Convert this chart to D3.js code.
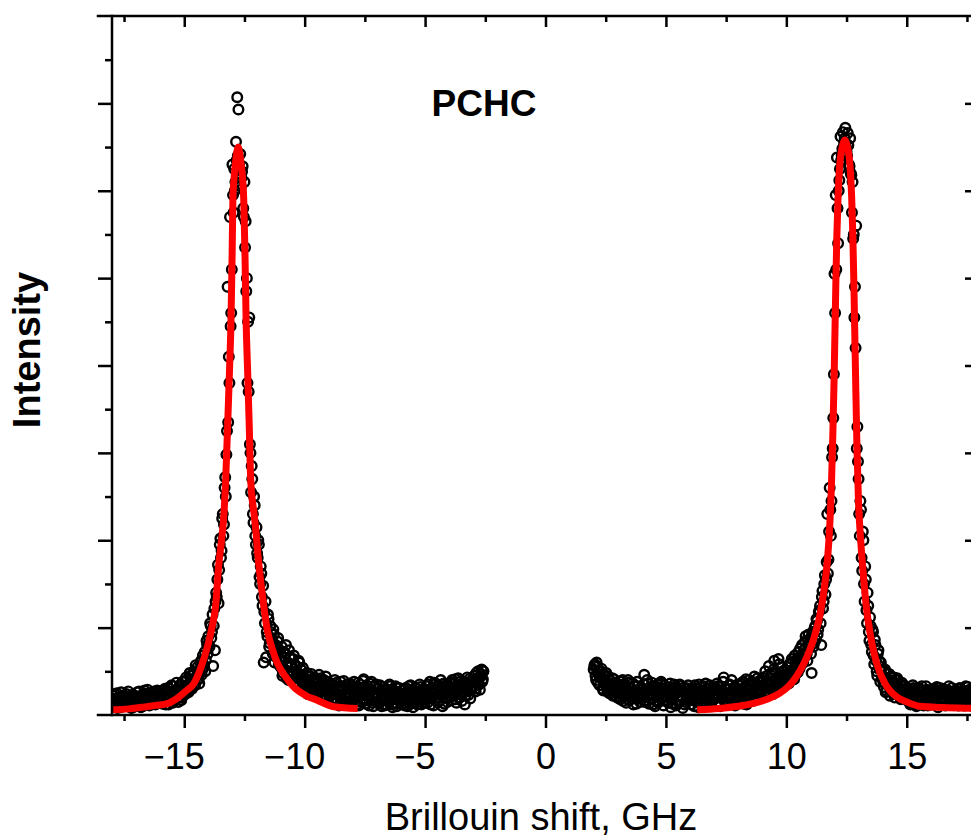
<!DOCTYPE html>
<html>
<head>
<meta charset="utf-8">
<script src="https://cdn.jsdelivr.net/npm/d3@7"></script>
<style>
  body { margin: 0; background: #ffffff; }
  text { font-family: "Liberation Sans", Arial, sans-serif; fill: #000; }
</style>
</head>
<body>
<div id="chart"></div>
<script>
//Measured Spectrum: Two Interleaved Scans on an Even Channel Grid (GHz)
let channelStep = 0.05;
let leftStartA = -18, leftStartB = -17.975;
let rightStartA = 2, rightStartB = 2.025;

//Anti-Stokes Side, Scan A (from -18 GHz)
let leftScanA = [
  0.14, 0.22, 0.10, 0.18, 0.25, 0.12, 0.16, 0.09, 0.21, 0.15, 0.19, 0.11, 0.24, 0.17, 0.13, 0.20, 0.08, 0.18, 0.23, 0.14,
  0.16, 0.26, 0.12, 0.20, 0.09, 0.22, 0.17, 0.28, 0.13, 0.19, 0.24, 0.11, 0.18, 0.21, 0.15, 0.27, 0.12, 0.23, 0.17, 0.20,
  0.18, 0.25, 0.13, 0.22, 0.30, 0.16, 0.21, 0.12, 0.27, 0.19, 0.24, 0.33, 0.17, 0.23, 0.29, 0.15, 0.26, 0.35, 0.20, 0.28,
  0.32, 0.24, 0.40, 0.29, 0.36, 0.45, 0.31, 0.38, 0.50, 0.34, 0.44, 0.55, 0.41, 0.48, 0.62, 0.52, 0.58, 0.72, 0.63, 0.80,
  0.90, 0.78, 1.02, 0.95, 0.56, 1.22, 1.30, 1.35, 1.72, 1.66, 2.02, 1.88, 2.30, 2.18, 2.72, 2.98, 4.90, 4.10, 5.70, 4.60,
  6.30, 5.75, 6.00, 6.56, 7.07, 6.93, 6.20, 6.05, 6.22, 5.80, 6.10, 5.65, 5.00, 4.50, 4.55, 3.00, 2.85, 2.30, 2.50, 2.05,
  2.15, 1.80, 1.95, 1.50, 1.62, 1.25, 0.60, 1.05, 0.66, 0.90, 1.10, 0.82, 0.95, 0.85, 0.98, 0.60, 0.80, 0.72, 0.88, 0.64,
  0.55, 0.78, 0.48, 0.66, 0.70, 0.42, 0.60, 0.74, 0.45, 0.58, 0.50, 0.68, 0.38, 0.55, 0.47, 0.62, 0.35, 0.52, 0.44, 0.40,
  0.42, 0.30, 0.48, 0.36, 0.27, 0.44, 0.33, 0.39, 0.25, 0.41, 0.31, 0.37, 0.46, 0.28, 0.35, 0.22, 0.40, 0.32, 0.26, 0.38,
  0.30, 0.22, 0.36, 0.18, 0.28, 0.40, 0.25, 0.14, 0.33, 0.21, 0.38, 0.27, 0.16, 0.31, 0.24, 0.35, 0.19, 0.29, 0.12, 0.34,
  0.26, 0.38, 0.15, 0.31, 0.22, 0.11, 0.35, 0.27, 0.19, 0.41, 0.24, 0.13, 0.30, 0.20, 0.36, 0.17, 0.28, 0.10, 0.33, 0.23,
  0.21, 0.30, 0.14, 0.26, 0.10, 0.32, 0.19, 0.24, 0.12, 0.29, 0.17, 0.33, 0.22, 0.09, 0.27, 0.18, 0.31, 0.13, 0.25, 0.20,
  0.16, 0.28, 0.22, 0.11, 0.31, 0.19, 0.25, 0.13, 0.34, 0.21, 0.09, 0.27, 0.18, 0.30, 0.15, 0.24, 0.32, 0.12, 0.26, 0.20,
  0.23, 0.33, 0.14, 0.27, 0.38, 0.19, 0.30, 0.11, 0.25, 0.36, 0.21, 0.29, 0.16, 0.40, 0.24, 0.32, 0.13, 0.28, 0.35, 0.20,
  0.26, 0.37, 0.17, 0.31, 0.22, 0.41, 0.14, 0.29, 0.35, 0.20, 0.39, 0.25, 0.33, 0.12, 0.30, 0.43, 0.23, 0.36, 0.28, 0.40,
  0.32, 0.45, 0.27, 0.38, 0.50, 0.35, 0.44, 0.52, 0.41
];

//Anti-Stokes Side, Scan B (from -17.975 GHz)
let leftScanB = [
  0.19, 0.11, 0.24, 0.15, 0.08, 0.20, 0.13, 0.26, 0.17, 0.10, 0.22, 0.14, 0.18, 0.27, 0.12, 0.16, 0.23, 0.09, 0.21, 0.17,
  0.13, 0.21, 0.27, 0.15, 0.19, 0.10, 0.25, 0.14, 0.22, 0.29, 0.16, 0.20, 0.12, 0.26, 0.18, 0.23, 0.14, 0.28, 0.19, 0.24,
  0.22, 0.15, 0.28, 0.19, 0.12, 0.26, 0.31, 0.18, 0.24, 0.34, 0.14, 0.27, 0.21, 0.37, 0.19, 0.32, 0.25, 0.17, 0.38, 0.23,
  0.28, 0.43, 0.33, 0.26, 0.48, 0.39, 0.30, 0.46, 0.35, 0.57, 0.40, 0.49, 0.36, 0.60, 0.46, 0.68, 0.55, 0.50, 0.85, 0.70,
  0.80, 1.05, 0.88, 1.15, 1.02, 0.74, 1.40, 1.55, 1.28, 1.95, 1.80, 2.25, 2.05, 2.60, 2.50, 3.25, 3.35, 3.80, 4.45, 5.10,
  5.95, 6.25, 6.10, 6.35, 6.40, 6.30, 6.42, 6.15, 6.28, 5.70, 5.35, 4.85, 3.80, 3.70, 3.10, 2.55, 2.70, 2.20, 2.40, 1.95,
  1.85, 2.00, 1.58, 1.70, 1.35, 1.48, 1.18, 1.30, 0.95, 1.15, 0.78, 1.02, 0.88, 0.70, 0.92, 0.76, 0.66, 0.84, 0.58, 0.74,
  0.62, 0.45, 0.72, 0.52, 0.80, 0.58, 0.40, 0.66, 0.55, 0.48, 0.64, 0.42, 0.57, 0.50, 0.36, 0.60, 0.46, 0.39, 0.54, 0.33,
  0.35, 0.45, 0.24, 0.40, 0.32, 0.47, 0.29, 0.36, 0.43, 0.21, 0.38, 0.27, 0.34, 0.42, 0.23, 0.37, 0.30, 0.44, 0.20, 0.33,
  0.24, 0.35, 0.15, 0.31, 0.26, 0.19, 0.37, 0.29, 0.11, 0.27, 0.33, 0.18, 0.39, 0.23, 0.13, 0.30, 0.25, 0.36, 0.17, 0.28,
  0.32, 0.18, 0.29, 0.12, 0.37, 0.24, 0.15, 0.31, 0.39, 0.16, 0.27, 0.34, 0.21, 0.11, 0.29, 0.38, 0.14, 0.25, 0.19, 0.35,
  0.25, 0.13, 0.34, 0.18, 0.28, 0.22, 0.11, 0.30, 0.20, 0.15, 0.35, 0.24, 0.12, 0.29, 0.19, 0.33, 0.10, 0.23, 0.31, 0.16,
  0.24, 0.13, 0.30, 0.19, 0.25, 0.10, 0.33, 0.17, 0.22, 0.28, 0.14, 0.31, 0.23, 0.12, 0.27, 0.35, 0.18, 0.21, 0.29, 0.14,
  0.18, 0.28, 0.35, 0.21, 0.12, 0.31, 0.25, 0.37, 0.17, 0.29, 0.14, 0.34, 0.23, 0.27, 0.10, 0.36, 0.20, 0.30, 0.15, 0.26,
  0.33, 0.21, 0.40, 0.25, 0.36, 0.18, 0.31, 0.42, 0.24, 0.34, 0.16, 0.30, 0.38, 0.22, 0.35, 0.27, 0.41, 0.19, 0.33, 0.37,
  0.40, 0.30, 0.48, 0.36, 0.42, 0.29, 0.47, 0.38, 0.50
];

//Stokes Side, Scan A (from 2 GHz)
let rightScanA = [
  0.52, 0.58, 0.40, 0.55, 0.47, 0.34, 0.50, 0.42, 0.28, 0.46, 0.38, 0.31, 0.44, 0.25, 0.39, 0.33, 0.22, 0.41, 0.29, 0.36,
  0.27, 0.35, 0.18, 0.30, 0.40, 0.22, 0.33, 0.14, 0.28, 0.37, 0.20, 0.31, 0.24, 0.12, 0.34, 0.26, 0.38, 0.19, 0.29, 0.23,
  0.31, 0.21, 0.46, 0.17, 0.28, 0.36, 0.13, 0.25, 0.33, 0.19, 0.30, 0.10, 0.27, 0.35, 0.16, 0.24, 0.38, 0.20, 0.11, 0.29,
  0.22, 0.32, 0.14, 0.26, 0.09, 0.30, 0.19, 0.35, 0.24, 0.12, 0.28, 0.17, 0.33, 0.21, 0.08, 0.27, 0.15, 0.31, 0.23, 0.18,
  0.25, 0.12, 0.30, 0.20, 0.34, 0.16, 0.27, 0.09, 0.23, 0.32, 0.14, 0.28, 0.19, 0.36, 0.11, 0.26, 0.21, 0.31, 0.15, 0.24,
  0.18, 0.29, 0.13, 0.33, 0.22, 0.10, 0.27, 0.20, 0.43, 0.16, 0.30, 0.24, 0.12, 0.35, 0.19, 0.28, 0.14, 0.32, 0.23, 0.26,
  0.21, 0.34, 0.15, 0.29, 0.38, 0.18, 0.26, 0.12, 0.31, 0.40, 0.22, 0.33, 0.16, 0.28, 0.36, 0.19, 0.42, 0.25, 0.30, 0.37,
  0.28, 0.40, 0.22, 0.35, 0.45, 0.26, 0.38, 0.31, 0.48, 0.24, 0.62, 0.36, 0.43, 0.29, 0.58, 0.41, 0.33, 0.50, 0.38, 0.46,
  0.42, 0.55, 0.36, 0.49, 0.60, 0.44, 0.52, 0.68, 0.47, 0.58, 0.72, 0.53, 0.66, 0.80, 0.60, 0.75, 0.90, 0.70, 0.85, 0.78,
  0.88, 0.48, 0.95, 0.82, 1.02, 1.10, 0.92, 1.18, 1.25, 0.80, 1.42, 1.30, 1.60, 1.55, 2.30, 1.78, 2.60, 2.05, 2.95, 3.40,
  5.05, 5.95, 6.38, 5.40, 6.12, 6.62, 6.40, 6.67, 6.55, 6.72, 6.45, 6.66, 6.30, 6.60, 6.18, 6.10, 5.50, 4.90, 5.60, 3.30,
  2.70, 2.05, 2.35, 1.65, 2.00, 1.30, 1.55, 1.05, 1.25, 0.85, 1.02, 0.72, 0.95, 0.58, 0.80, 0.50, 0.70, 0.62, 0.38, 0.55,
  0.45, 0.32, 0.52, 0.28, 0.40, 0.36, 0.22, 0.44, 0.30, 0.38, 0.20, 0.34, 0.42, 0.26, 0.31, 0.18, 0.37, 0.24, 0.33, 0.21,
  0.25, 0.16, 0.30, 0.12, 0.22, 0.34, 0.18, 0.27, 0.10, 0.24, 0.31, 0.14, 0.20, 0.28, 0.11, 0.23, 0.33, 0.17, 0.26, 0.13,
  0.21, 0.29, 0.12, 0.25, 0.17, 0.32, 0.09, 0.23, 0.28, 0.15, 0.30, 0.19, 0.11, 0.26, 0.22, 0.33, 0.14, 0.24, 0.18, 0.27,
  0.16, 0.28, 0.20, 0.11, 0.31, 0.24, 0.14, 0.27, 0.19, 0.33, 0.12, 0.22, 0.29, 0.17, 0.25, 0.10, 0.30, 0.21, 0.26, 0.15
];

//Stokes Side, Scan B (from 2.025 GHz)
let rightScanB = [
  0.56, 0.45, 0.60, 0.37, 0.50, 0.43, 0.53, 0.30, 0.45, 0.35, 0.48, 0.27, 0.41, 0.34, 0.29, 0.42, 0.26, 0.37, 0.31, 0.20,
  0.32, 0.21, 0.38, 0.26, 0.16, 0.35, 0.29, 0.22, 0.40, 0.17, 0.31, 0.25, 0.36, 0.19, 0.27, 0.13, 0.33, 0.24, 0.15, 0.30,
  0.24, 0.35, 0.15, 0.28, 0.40, 0.22, 0.31, 0.18, 0.37, 0.12, 0.26, 0.33, 0.21, 0.14, 0.30, 0.36, 0.19, 0.27, 0.34, 0.16,
  0.29, 0.17, 0.25, 0.36, 0.20, 0.13, 0.32, 0.26, 0.11, 0.30, 0.22, 0.35, 0.16, 0.27, 0.31, 0.12, 0.24, 0.19, 0.34, 0.26,
  0.17, 0.29, 0.22, 0.10, 0.31, 0.25, 0.18, 0.35, 0.13, 0.27, 0.21, 0.33, 0.10, 0.24, 0.30, 0.16, 0.34, 0.12, 0.28, 0.20,
  0.31, 0.22, 0.36, 0.15, 0.27, 0.33, 0.19, 0.38, 0.25, 0.12, 0.29, 0.21, 0.34, 0.17, 0.40, 0.23, 0.31, 0.11, 0.27, 0.35,
  0.28, 0.19, 0.36, 0.24, 0.13, 0.32, 0.41, 0.22, 0.35, 0.17, 0.29, 0.38, 0.25, 0.44, 0.20, 0.32, 0.27, 0.39, 0.23, 0.34,
  0.43, 0.32, 0.50, 0.27, 0.39, 0.56, 0.34, 0.45, 0.30, 0.52, 0.40, 0.47, 0.35, 0.64, 0.44, 0.37, 0.55, 0.42, 0.51, 0.39,
  0.50, 0.40, 0.58, 0.46, 0.64, 0.52, 0.41, 0.62, 0.56, 0.49, 0.66, 0.76, 0.58, 0.70, 0.64, 0.84, 0.72, 0.62, 0.92, 0.82,
  0.70, 0.92, 0.78, 1.00, 0.86, 1.08, 0.98, 1.20, 1.05, 1.35, 1.22, 1.50, 1.38, 1.75, 1.62, 2.10, 2.35, 2.45, 3.05, 3.90,
  4.60, 5.10, 5.80, 6.00, 6.25, 6.35, 6.48, 6.45, 6.60, 6.50, 6.40, 6.52, 6.28, 6.20, 5.75, 5.45, 4.55, 4.20, 3.05, 2.90,
  2.30, 2.45, 1.80, 2.10, 1.50, 1.70, 1.20, 1.40, 0.95, 1.12, 0.80, 0.98, 0.68, 0.86, 0.62, 0.45, 0.74, 0.52, 0.60, 0.42,
  0.38, 0.50, 0.26, 0.42, 0.34, 0.47, 0.29, 0.39, 0.25, 0.43, 0.32, 0.28, 0.40, 0.22, 0.35, 0.29, 0.19, 0.34, 0.27, 0.30,
  0.20, 0.29, 0.14, 0.26, 0.19, 0.31, 0.12, 0.23, 0.30, 0.16, 0.27, 0.21, 0.33, 0.13, 0.25, 0.18, 0.29, 0.11, 0.22, 0.28,
  0.25, 0.16, 0.30, 0.20, 0.13, 0.27, 0.22, 0.31, 0.14, 0.26, 0.18, 0.29, 0.23, 0.12, 0.28, 0.17, 0.25, 0.31, 0.13, 0.21,
  0.23, 0.13, 0.26, 0.30, 0.17, 0.21, 0.28, 0.11, 0.24, 0.20, 0.32, 0.15, 0.27, 0.19, 0.13, 0.29, 0.22, 0.14, 0.25, 0.31
];

//Fitted Curves (Red Lines)
let leftFitShift = [-18.0, -17.3, -16.7, -16.2, -15.7, -15.3, -14.95, -14.6, -14.3, -14.04, -13.85, -13.7, -13.56, -13.45, -13.35, -13.28,
  -13.2, -13.12, -13.06, -13.01, -12.98, -12.93, -12.86, -12.76, -12.66, -12.58, -12.53, -12.48, -12.43, -12.37, -12.3, -12.24,
  -12.1, -12.03, -11.93, -11.83, -11.7, -11.55, -11.35, -11.13, -10.8, -10.45, -10.0, -9.48, -8.79, -7.8];
let leftFitIntensity = [0.06, 0.07, 0.09, 0.11, 0.13, 0.19, 0.27, 0.36, 0.55, 0.78, 1.0, 1.24, 1.74, 2.0, 2.31, 2.69,
  3.3, 3.95, 4.5, 5.3, 5.9, 6.15, 6.35, 6.5, 6.35, 6.15, 5.9, 5.3, 4.5, 3.95, 3.3, 2.69,
  2.3, 2.12, 1.8, 1.54, 1.25, 0.97, 0.76, 0.59, 0.44, 0.32, 0.23, 0.17, 0.095, 0.075];
let rightFitShift = [6.3, 7.2, 8.0, 8.6, 9.2, 9.73, 10.1, 10.42, 10.75, 10.97, 11.2, 11.4, 11.55, 11.7, 11.8, 11.88,
  11.93, 11.98, 12.02, 12.06, 12.1, 12.15, 12.22, 12.32, 12.43, 12.54, 12.64, 12.71, 12.76, 12.8, 12.84, 12.88,
  12.93, 12.99, 13.1, 13.2, 13.32, 13.5, 13.65, 13.8, 14.1, 14.57, 15.0, 15.54, 16.5, 17.6, 18.0];
let rightFitIntensity = [0.06, 0.075, 0.10, 0.13, 0.18, 0.25, 0.33, 0.44, 0.6, 0.74, 0.93, 1.15, 1.4, 1.75, 2.15, 2.7,
  3.2, 3.8, 4.4, 5.0, 5.5, 5.95, 6.3, 6.5, 6.58, 6.5, 6.3, 5.95, 5.5, 5.0, 4.4, 3.8,
  3.1, 2.5, 1.95, 1.6, 1.24, 0.9, 0.7, 0.55, 0.36, 0.21, 0.15, 0.10, 0.085, 0.077, 0.075];

//Tick Values
let xMajorTicks = [-15, -10, -5, 0, 5, 10, 15];
let xMinorTicks = [-17.5, -12.5, -7.5, -2.5, 2.5, 7.5, 12.5, 17.5];
let yMajorTicks = [1, 2, 3, 4, 5, 6, 7];
let yMinorTicks = [0.5, 1.5, 2.5, 3.5, 4.5, 5.5, 6.5, 7.5];

//SVG Size and Plot Frame
let svgWidth = 971;
let svgHeight = 840;
let frame = { left: 112, right: 979, top: 16, bottom: 715 };

let svg = d3.select("#chart")
  .append("svg")
  .attr("width", svgWidth)
  .attr("height", svgHeight);

//Scales
let xScale = d3.scaleLinear().domain([-18, 18]).range([frame.left, frame.right]);
let yScale = d3.scaleLinear().domain([0, 8]).range([frame.bottom, frame.top]);

//Build Point Tables from the Channel Grid
let toPoints = (start, values) => values.map((v, i) => ({ shift: +(start + i * channelStep).toFixed(3), value: v }));
let points = [].concat(
  toPoints(leftStartA, leftScanA), toPoints(leftStartB, leftScanB),
  toPoints(rightStartA, rightScanA), toPoints(rightStartB, rightScanB));
let zip = (xs, ys) => xs.map((s, i) => ({ shift: s, value: ys[i] }));

//Clip Marks to the Plot Area
svg.append("clipPath").attr("id", "plotClip")
  .append("rect")
  .attr("x", frame.left)
  .attr("y", frame.top)
  .attr("width", frame.right - frame.left)
  .attr("height", frame.bottom - frame.top);

let plot = svg.append("g").attr("clip-path", "url(#plotClip)");

//Open Circles for the Measured Points
plot.selectAll("circle")
  .data(points)
  .enter()
  .append("circle")
  .attr("cx", d => xScale(d.shift))
  .attr("cy", d => yScale(d.value))
  .attr("r", 4.8)
  .attr("fill", "none")
  .attr("stroke", "#000")
  .attr("stroke-width", 2.4);

//Red Fit Lines
let fitLine = d3.line()
  .x(d => xScale(d.shift))
  .y(d => yScale(d.value))
  .curve(d3.curveMonotoneX);

[zip(leftFitShift, leftFitIntensity), zip(rightFitShift, rightFitIntensity)].forEach(fit => {
  plot.append("path")
    .datum(fit)
    .attr("d", fitLine)
    .attr("fill", "none")
    .attr("stroke", "#ff0000")
    .attr("stroke-width", 7)
    .attr("stroke-linejoin", "round");
});

//Axes Helper: Draw Ticks Only, Frame is Drawn Separately
function drawTicks(axis, transform) {
  let g = svg.append("g").attr("transform", transform).call(axis);
  g.select(".domain").remove();
  g.selectAll(".tick line").attr("stroke", "#000").attr("stroke-width", 2.5);
  return g;
}

//Bottom Axis with Labels
let bottomAxis = drawTicks(
  d3.axisBottom(xScale).tickValues(xMajorTicks).tickSize(13).tickPadding(15).tickFormat(d3.format("d")),
  `translate(0, ${frame.bottom})`);
bottomAxis.selectAll(".tick text")
  .style("font-size", "36px")
  .style("font-family", "'Liberation Sans', Arial, sans-serif")
  .each(function (d) {
    //Centre the Digits on the Tick and Let the Minus Sign Hang Left
    if (d < 0) {
      let t = d3.select(this);
      t.text(d3.format("d")(Math.abs(d)));
      let w = this.getComputedTextLength();
      t.text(d3.format("d")(d)).attr("text-anchor", "end").attr("x", w / 2);
    }
  });
drawTicks(d3.axisBottom(xScale).tickValues(xMinorTicks).tickSize(6).tickFormat(""), `translate(0, ${frame.bottom})`);

//Top Axis (Ticks Pointing In)
drawTicks(d3.axisBottom(xScale).tickValues(xMajorTicks).tickSize(11).tickFormat(""), `translate(0, ${frame.top})`);
drawTicks(d3.axisBottom(xScale).tickValues(xMinorTicks).tickSize(6).tickFormat(""), `translate(0, ${frame.top})`);

//Left Axis (Ticks Pointing Out)
drawTicks(d3.axisLeft(yScale).tickValues(yMajorTicks).tickSize(14).tickFormat(""), `translate(${frame.left}, 0)`);
drawTicks(d3.axisLeft(yScale).tickValues(yMinorTicks).tickSize(7).tickFormat(""), `translate(${frame.left}, 0)`);

//Right Axis (Ticks Pointing In)
drawTicks(d3.axisLeft(yScale).tickValues(yMajorTicks).tickSize(14).tickFormat(""), `translate(${frame.right}, 0)`);
drawTicks(d3.axisLeft(yScale).tickValues(yMinorTicks).tickSize(7).tickFormat(""), `translate(${frame.right}, 0)`);

//Frame Lines
let frameLines = [
  [98, frame.top, frame.right, frame.top],
  [98, frame.bottom, frame.right, frame.bottom],
  [frame.left, frame.top, frame.left, frame.bottom],
  [frame.right, frame.top, frame.right, frame.bottom]
];
svg.selectAll(".frame")
  .data(frameLines)
  .enter()
  .append("line")
  .attr("class", "frame")
  .attr("x1", d => d[0]).attr("y1", d => d[1])
  .attr("x2", d => d[2]).attr("y2", d => d[3])
  .attr("stroke", "#000")
  .attr("stroke-width", 2.5)
  .attr("stroke-linecap", "square");

//Axis Titles and Sample Label
svg.append("text")
  .attr("x", 541)
  .attr("y", 830)
  .attr("text-anchor", "middle")
  .style("font-size", "38px")
  .text("Brillouin shift, GHz");

svg.append("text")
  .attr("transform", "translate(40, 350) rotate(-90)")
  .attr("text-anchor", "middle")
  .style("font-size", "38px")
  .style("font-weight", "bold")
  .text("Intensity");

svg.append("text")
  .attr("x", 484)
  .attr("y", 116)
  .attr("text-anchor", "middle")
  .style("font-size", "37px")
  .style("font-weight", "bold")
  .text("PCHC");
</script>
</body>
</html>
